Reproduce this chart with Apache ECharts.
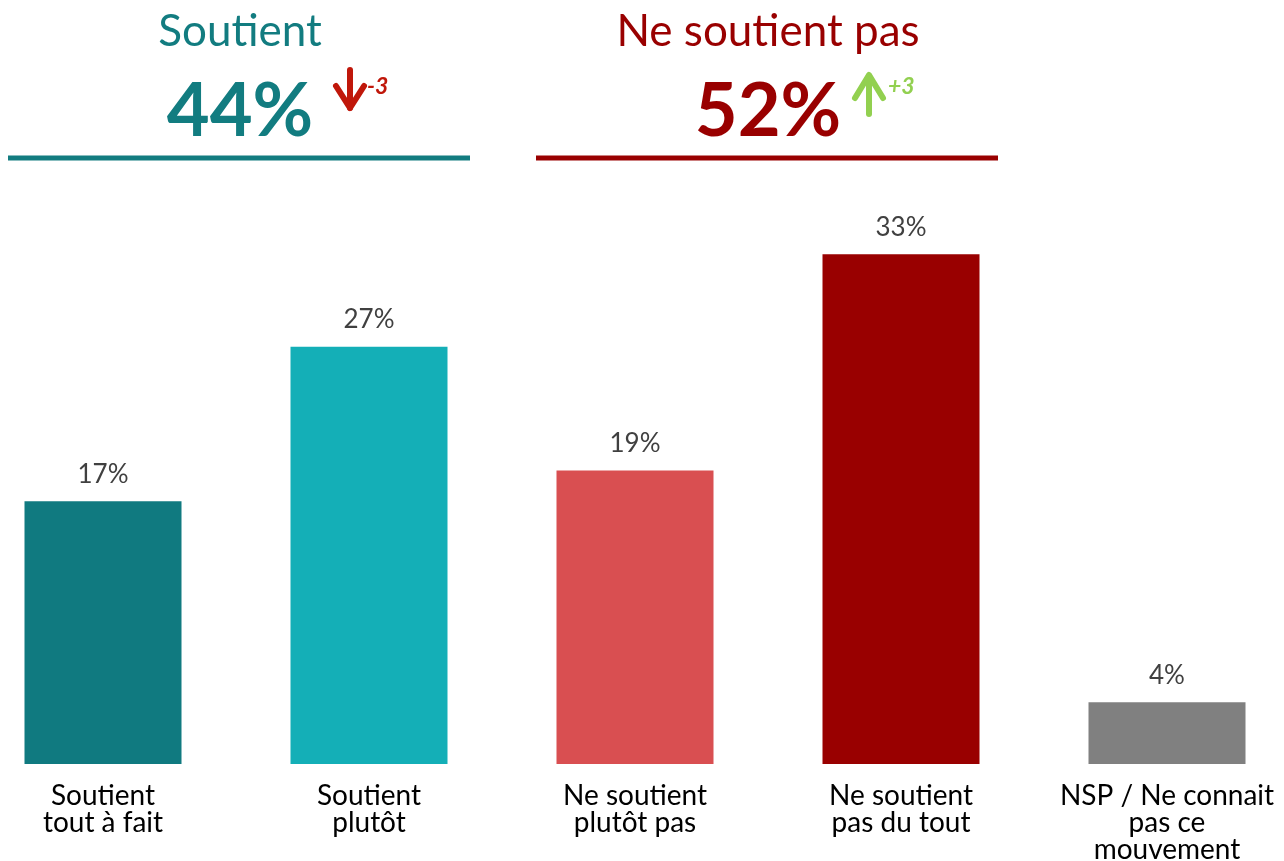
<!DOCTYPE html>
<html>
<head>
<meta charset="utf-8">
<script src="https://cdn.jsdelivr.net/npm/echarts@6/dist/echarts.min.js"></script>
<style>
  html, body { margin: 0; padding: 0; background: #ffffff; }
  #chart { width: 1284px; height: 861px; }
</style>
</head>
<body>
<div id="chart"></div>
<script>
// Answer categories and their shares (%)
const categories = [
  'Soutient\ntout à fait',
  'Soutient\nplutôt',
  'Ne soutient\nplutôt pas',
  'Ne soutient\npas du tout',
  'NSP / Ne connait\npas ce\nmouvement'
];
const values = [17, 27, 19, 33, 4];

// Grouped totals shown above the bars, with change vs. previous wave
const groupTitles = ['Soutient', 'Ne soutient pas'];
const groupTotals = [44, 52];
const groupDeltas = ['-3', '+3'];

const barColors = ['#107A80', '#14AFB7', '#D94F51', '#990000', '#808080'];
const teal = '#127C80';
const darkRed = '#990000';
const FONT = 'Lato, "Open Sans", sans-serif';

const chart = echarts.init(document.getElementById('chart'), null, { renderer: 'canvas' });

// Header block: title, big total, trend arrow, delta and underline
function header(cx, title, total, delta, color, up) {
  const arrowColor = up ? '#92D050' : '#C0170A';
  const ax = up ? cx + 101 : cx + 110;
  const els = [
    { type: 'text', x: cx, y: 32, style: { text: title, fill: color, font: '44px ' + FONT, align: 'center', verticalAlign: 'middle' } },
    { type: 'text', x: cx, y: 112, style: { text: total + '%', fill: color, font: 'bold 74px ' + FONT, align: 'center', verticalAlign: 'middle' } },
    { type: 'line', shape: { x1: cx - 232, y1: 158, x2: cx + 230, y2: 158 }, style: { stroke: color, lineWidth: 5 } }
  ];
  if (up) {
    els.push({ type: 'line', shape: { x1: ax, y1: 76, x2: ax, y2: 114 }, style: { stroke: arrowColor, lineWidth: 6, lineCap: 'round' } });
    els.push({ type: 'polyline', shape: { points: [[ax - 14, 98], [ax, 75], [ax + 14, 98]] }, style: { stroke: arrowColor, lineWidth: 6, lineCap: 'round', lineJoin: 'round', fill: null } });
    els.push({ type: 'text', x: ax + 19, y: 87, style: { text: delta, fill: arrowColor, font: 'italic bold 23px ' + FONT, align: 'left', verticalAlign: 'middle' } });
  } else {
    els.push({ type: 'line', shape: { x1: ax, y1: 70, x2: ax, y2: 108 }, style: { stroke: arrowColor, lineWidth: 6, lineCap: 'round' } });
    els.push({ type: 'polyline', shape: { points: [[ax - 14, 86], [ax, 108], [ax + 14, 86]] }, style: { stroke: arrowColor, lineWidth: 6, lineCap: 'round', lineJoin: 'round', fill: null } });
    els.push({ type: 'text', x: ax + 17, y: 87, style: { text: delta, fill: arrowColor, font: 'italic bold 23px ' + FONT, align: 'left', verticalAlign: 'middle' } });
  }
  return els;
}

const graphics = []
  .concat(header(240, groupTitles[0], groupTotals[0], groupDeltas[0], teal, false))
  .concat(header(768, groupTitles[1], groupTotals[1], groupDeltas[1], darkRed, true));

chart.setOption({
  animation: false,
  backgroundColor: '#ffffff',
  grid: { left: -30, right: -16, top: 146, bottom: 97, outerBoundsMode: 'none', containLabel: false },
  xAxis: {
    type: 'category',
    data: categories,
    axisLine: { show: false },
    axisTick: { show: false },
    axisLabel: {
      interval: 0,
      margin: 18,
      color: '#000000',
      fontFamily: FONT,
      fontSize: 28,
      lineHeight: 27,
      verticalAlign: 'top'
    }
  },
  yAxis: {
    type: 'value',
    min: 0,
    max: 40,
    show: false,
    splitLine: { show: false }
  },
  series: [{
    type: 'bar',
    data: values.map((v, i) => ({ value: v, itemStyle: { color: barColors[i] } })),
    barWidth: 157,
    label: {
      show: true,
      position: 'top',
      distance: 14,
      formatter: '{c}%',
      color: '#404040',
      fontFamily: FONT,
      fontSize: 26
    }
  }],
  graphic: graphics
});
</script>
</body>
</html>
